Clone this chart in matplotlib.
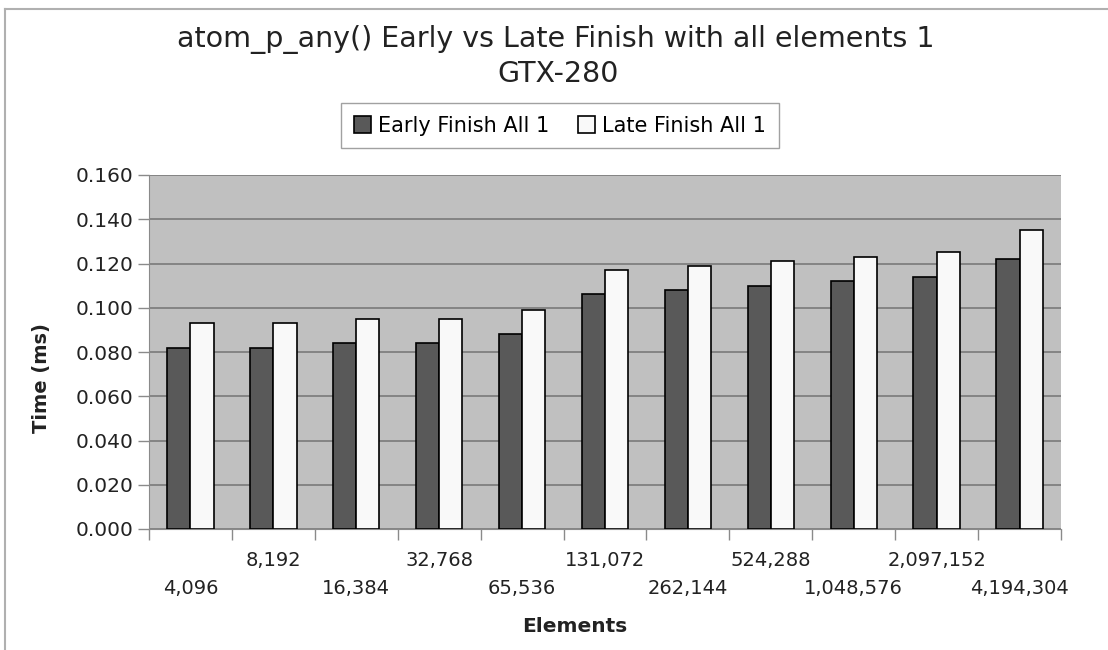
import numpy as np
import matplotlib.pyplot as plt
from matplotlib.lines import Line2D

plt.rcParams['font.family'] = ['DejaVu Sans']

# data
elements = ["4,096", "8,192", "16,384", "32,768", "65,536", "131,072",
            "262,144", "524,288", "1,048,576", "2,097,152", "4,194,304"]
early = [0.082, 0.082, 0.084, 0.084, 0.088, 0.106, 0.108, 0.110, 0.112, 0.114, 0.122]
late = [0.093, 0.093, 0.095, 0.095, 0.099, 0.117, 0.119, 0.121, 0.123, 0.125, 0.135]
series_names = ["Early Finish All 1", "Late Finish All 1"]

fig = plt.figure(figsize=(11.08, 6.5), dpi=100)
ax = fig.add_axes([149 / 1108, 1 - 529 / 650, 912 / 1108, 354 / 650])
ax.set_facecolor("#c0c0c0")

x = np.arange(len(elements))
w = 0.28
ax.bar(x - w / 2, early, w, color="#595959", edgecolor="black", linewidth=1.2,
       label=series_names[0], zorder=3)
ax.bar(x + w / 2, late, w, color="#f9f9f9", edgecolor="black", linewidth=1.2,
       label=series_names[1], zorder=3)

ax.set_ylim(0, 0.16)
ax.set_xlim(-0.5, len(elements) - 0.5)
yt = np.arange(0, 0.161, 0.02)
ax.set_yticks(yt)
ax.set_yticklabels(["%.3f" % v for v in yt], fontsize=14.5, color="#222222")
ax.yaxis.grid(True, color="#7a7a7a", linewidth=1.2, zorder=0)
ax.set_axisbelow(True)

# category boundary ticks, labels staggered in two rows
ax.set_xticks(np.arange(-0.5, len(elements), 1.0))
ax.set_xticklabels([])
ax.tick_params(axis="x", length=8, color="#8a8a8a", width=1)
ax.tick_params(axis="y", length=8, color="#8a8a8a", width=1, pad=3)
for i, lab in enumerate(elements):
    dy = -42.5 if i % 2 == 0 else -23
    ax.annotate(lab, (i, 0), xycoords=("data", "axes fraction"), xytext=(0, dy),
                textcoords="offset points", ha="center", va="center",
                fontsize=14, color="#222222")

for s in ["top", "right"]:
    ax.spines[s].set_visible(False)
ax.spines["left"].set_color("#8a8a8a")
ax.spines["bottom"].set_color("#8a8a8a")

fig.text(42 / 1108, 1 - 378 / 650, "Time (ms)", rotation=90, ha="center", va="center",
         fontsize=14, fontweight="bold", color="#222222")
fig.text(575 / 1108, 1 - 627 / 650, "Elements", ha="center", va="center",
         fontsize=14.5, fontweight="bold", color="#222222")

fig.text(556 / 1108, 1 - 47 / 650, "atom_p_any() Early vs Late Finish with all elements 1",
         ha="center", va="baseline", fontsize=20.5, color="#222222")
fig.text(558 / 1108, 1 - 82 / 650, "GTX-280", ha="center", va="baseline", fontsize=20.5,
         color="#222222")

leg = fig.legend(loc="center", bbox_to_anchor=(560 / 1108, 1 - 125.5 / 650), ncol=2,
                 fontsize=15, frameon=True, fancybox=False, handlelength=0.8,
                 handleheight=0.9, handletextpad=0.35, columnspacing=1.4,
                 borderpad=0.6, borderaxespad=0)
leg.get_frame().set_edgecolor("#8a8a8a")
leg.get_frame().set_linewidth(1)

# thin page border at left and top
fig.add_artist(Line2D([5 / 1108, 5 / 1108], [0, 1 - 9 / 650], color="#b0b0b0", linewidth=1.5))
fig.add_artist(Line2D([5 / 1108, 1], [1 - 9 / 650, 1 - 9 / 650], color="#b0b0b0", linewidth=1.5))

fig.savefig("out.png", dpi=100)
